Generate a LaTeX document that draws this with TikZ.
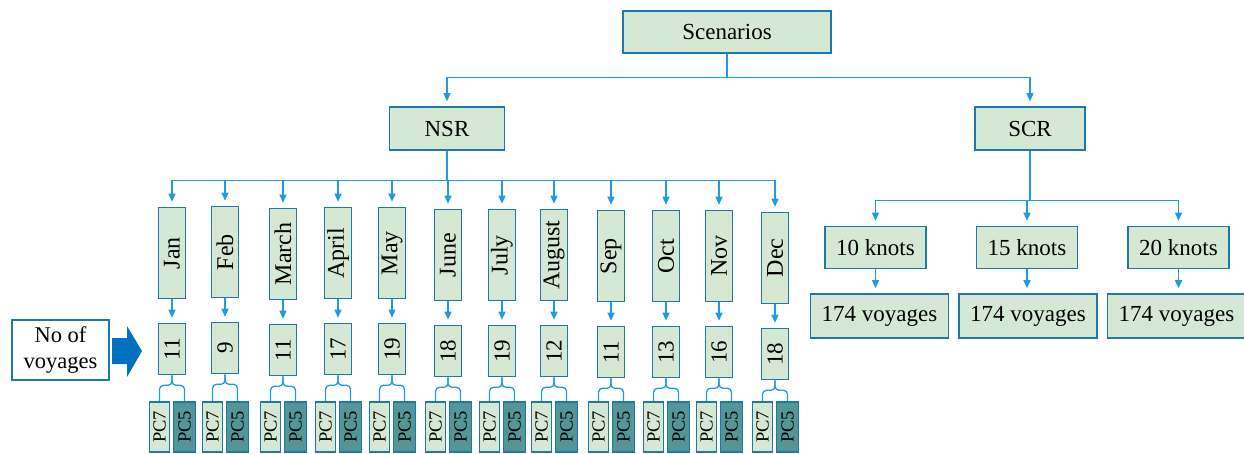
\documentclass[tikz,border=0pt]{standalone}
\usepackage{fontspec}
\setmainfont{Liberation Serif}
\usepackage{graphicx}
\usetikzlibrary{arrows.meta}
\definecolor{boxfill}{RGB}{213,232,212}
\definecolor{boxdraw}{RGB}{31,120,166}
\definecolor{linecol}{RGB}{30,155,225}
\definecolor{pcfill}{RGB}{84,150,152}
\definecolor{bigarrow}{RGB}{0,112,192}
\begin{document}
\begin{tikzpicture}[x=1pt,y=-1pt,
  box/.style={draw=boxdraw, line width=1.6pt, fill=boxfill, inner sep=0pt, font=\fontsize{23}{25}\selectfont},
  monthbox/.style={box, minimum width=27pt, minimum height=91pt, font=\fontsize{24}{26}\selectfont},
  countbox/.style={box, minimum width=27pt, minimum height=51pt},
  pcseven/.style={box, minimum width=20pt, minimum height=50pt, font=\fontsize{18.5}{20}\selectfont},
  pcfive/.style={pcseven, minimum width=22pt, fill=pcfill},
  conn/.style={draw=linecol, line width=1.3pt},
  arr/.style={conn, -{Triangle[length=8pt,width=7pt]}, shorten >=5pt},
  bracket/.style={conn, rounded corners=4pt}]
\useasboundingbox (0,0) rectangle (1244,453);
% top level
\node[box, minimum width=208pt, minimum height=42pt] (sc) at (727,32) {Scenarios};
\node[box, minimum width=115pt, minimum height=43pt] (nsr) at (447,128.5) {NSR};
\node[box, minimum width=110pt, minimum height=43pt] (scr) at (1030,128.5) {SCR};
\draw[conn] (sc.south) -- ++(0,24) coordinate (j1);
\draw[arr] (j1) -| (nsr.north);
\draw[arr] (j1) -| (scr.north);
% NSR months
\draw[conn] (nsr.south) -- ++(0,30) coordinate (j2);
\foreach \n/\lab/\cnt/\cx/\dy in {jan/Jan/11/172/0, feb/Feb/9/225/-1, mar/March/11/283/1, apr/April/17/338/0, may/May/19/392/0, jun/June/18/448/2, jul/July/19/502/2, aug/August/12/554/2, sep/Sep/11/611/3, oct/Oct/13/666/3, nov/Nov/16/719/3, dec/Dec/18/775/5}{
  \node[monthbox] (m\n) at (\cx,253+\dy) {\rotatebox{90}{\lab}};
  \node[countbox] (c\n) at (\cx,349+\dy) {\rotatebox{90}{\cnt}};
  \node[pcseven] (p7\n) at (\cx-12.5,427) {\rotatebox{90}{PC7}};
  \node[pcfive] (p5\n) at (\cx+12.5,427) {\rotatebox{90}{PC5}};
  \draw[arr] (j2) -| (m\n.north);
  \draw[arr] (m\n.south) -- (c\n.north);
  \draw[bracket] (c\n.south) -- ++(0,10) -| (p7\n.north);
  \draw[bracket] (c\n.south) -- ++(0,10) -| (p5\n.north);
}
% No of voyages
\node[box, fill=white, minimum width=97pt, minimum height=60pt, align=center, font=\fontsize{22.5}{26}\selectfont] (nov) at (60.5,350) {No of\\voyages};
\fill[bigarrow] (112,338) -- (127,338) -- (127,326) -- (142,351) -- (127,377) -- (127,364) -- (112,364) -- cycle;
% SCR branch
\draw[conn] (scr.south) -- ++(0,50) coordinate (j3);
\foreach \n/\k/\kx/\vx in {a/10/875.5/879.5, b/15/1027/1028, c/20/1178.5/1176.5}{
  \node[box, minimum width=101pt, minimum height=42pt] (k\n) at (\kx,247.5) {\k{} knots};
  \node[box, minimum width=138pt, minimum height=44pt] (v\n) at (\vx,316) {174 voyages};
  \draw[arr] (j3) -| (k\n.north);
  \draw[arr] (k\n.south) -- (k\n.south |- v\n.north);
}
\end{tikzpicture}
\end{document}
